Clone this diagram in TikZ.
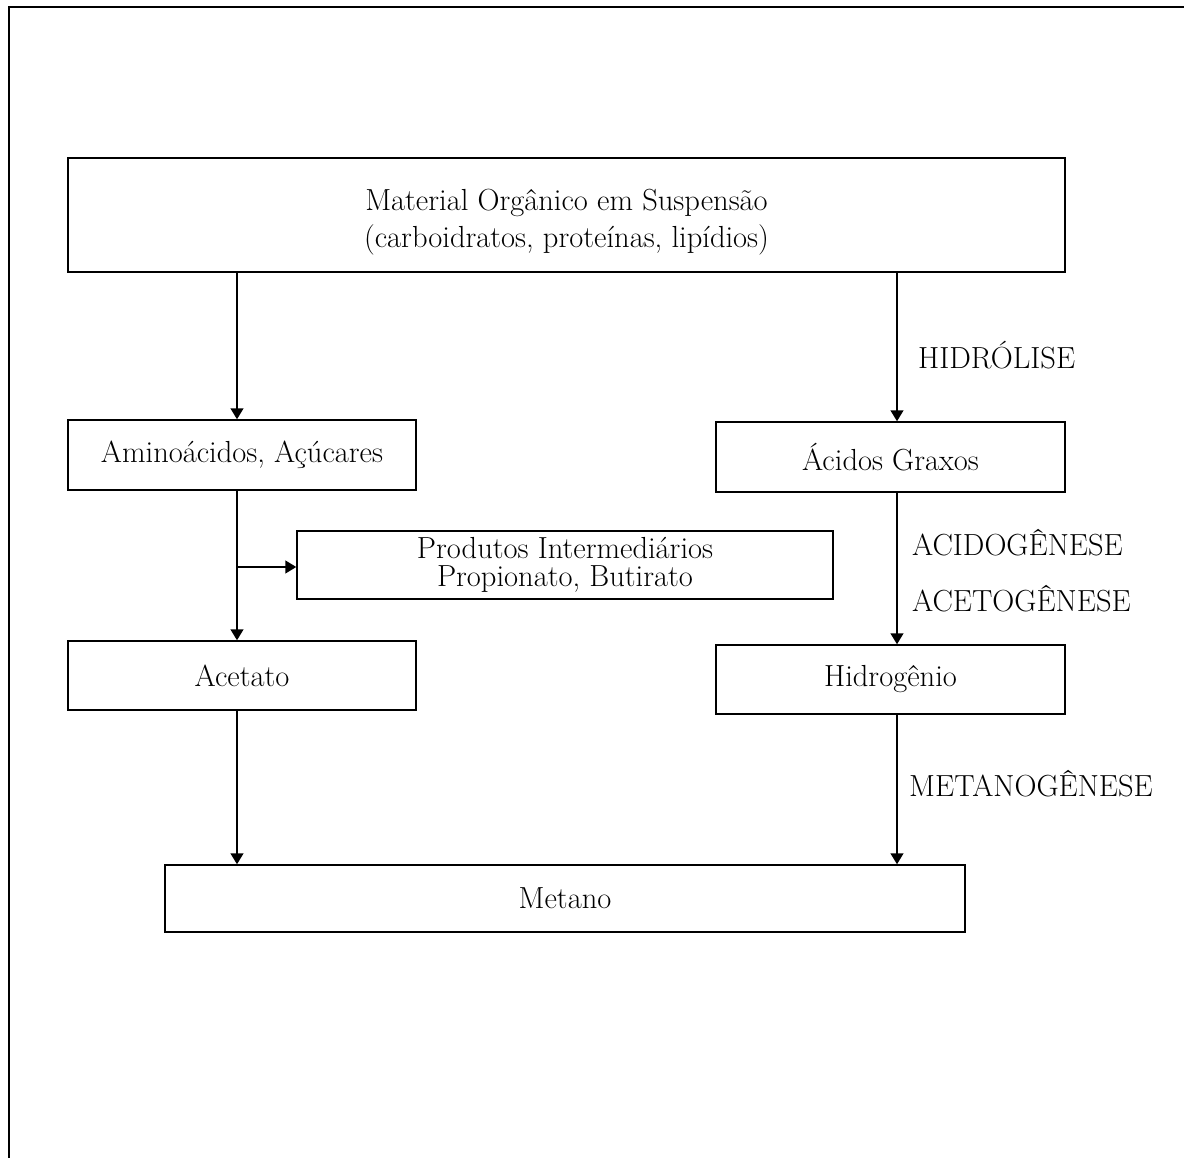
\documentclass[tikz,border=0pt]{standalone}
\usetikzlibrary{arrows.meta}
\tikzset{
  box/.style={draw, line width=1.5pt, minimum width=#1, inner sep=0pt, align=center, font=\fontsize{30.5}{36}\selectfont},
  arr/.style={line width=1.5pt, -{Triangle[length=11pt,width=13pt]}},
  lbl/.style={anchor=west, inner sep=0pt, font=\fontsize{30.5}{36}\selectfont}
}
\begin{document}
\begin{tikzpicture}[x=1pt,y=-1pt]
\useasboundingbox (0,0) rectangle (1184,1158);
\draw[line width=2pt] (9,1158) -- (9,7) -- (1184,7);
\node[box=997pt, minimum height=114pt] (mat) at (566.5,215) {\rule{0pt}{36pt}Material Orgânico em Suspensão\\[1pt](carboidratos, proteínas, lipídios)};
\node[box=348pt, minimum height=70pt] (ami) at (242,455) {Aminoácidos, Açúcares};
\node[box=349pt, minimum height=70pt] (aci) at (890.5,457) {Ácidos Graxos};
\node[box=536pt, minimum height=68pt, font=\fontsize{30.5}{28}\selectfont] (pro) at (565,565) {Produtos Intermediários\\Propionato, Butirato};
\node[box=348pt, minimum height=69pt] (ace) at (242,675.5) {Acetato};
\node[box=349pt, minimum height=69pt] (hid) at (890.5,679.5) {Hidrogênio};
\node[box=800pt, minimum height=67pt] (met) at (565,898.5) {Metano};
\coordinate (L) at (237,0);
\coordinate (R) at (897,0);
\coordinate (br) at (237,567);
\draw[arr] (mat.south -| L) -- (ami.north -| L);
\draw[arr] (ami.south -| L) -- (ace.north -| L);
\draw[arr] (br) -- (pro.west |- br);
\draw[arr] (ace.south -| L) -- (met.north -| L);
\draw[arr] (mat.south -| R) -- (aci.north -| R);
\draw[arr] (aci.south -| R) -- (hid.north -| R);
\draw[arr] (hid.south -| R) -- (met.north -| R);
\node[lbl] (h1) at (918,355) {HIDRÓLISE};
\node[lbl] (h2) at (912,543) {ACIDOGÊNESE};
\node[lbl] (h3) at (912,599) {ACETOGÊNESE};
\node[lbl] (h4) at (909,784) {METANOGÊNESE};
\end{tikzpicture}
\end{document}
